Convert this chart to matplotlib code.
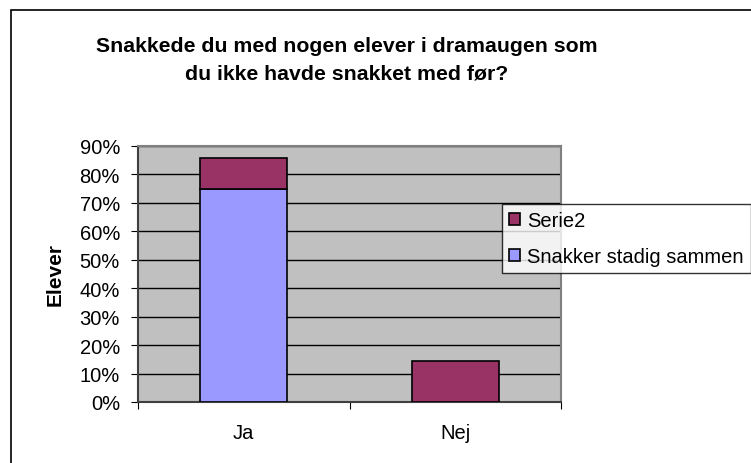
import matplotlib.pyplot as plt
from matplotlib.patches import Rectangle
from matplotlib.ticker import FixedLocator, PercentFormatter

plt.rcParams['font.family'] = ['Liberation Sans', 'DejaVu Sans']

categories = ['Ja', 'Nej']
snakker_stadig = [75.0, 0.0]
serie2 = [10.7, 14.3]

fig = plt.figure(figsize=(7.51, 4.64), dpi=100)

# outer chart border
fig.patches.append(Rectangle((11 / 751, -0.1), 1.1, 1.1 - 11 / 464,
                             transform=fig.transFigure, fill=False,
                             edgecolor='black', linewidth=1.2))

ax = fig.add_axes([138 / 751, 1 - 403 / 464, 423 / 751, 256 / 464])
ax.set_facecolor('#C0C0C0')

x = range(len(categories))
b1 = ax.bar(x, snakker_stadig, width=0.41, color='#9999FF', edgecolor='black',
            linewidth=1.2, label='Snakker stadig sammen', zorder=3)
b2 = ax.bar(x, serie2, width=0.41, bottom=snakker_stadig, color='#993366',
            edgecolor='black', linewidth=1.2, label='Serie2', zorder=3)

ax.set_xlim(-0.5, 1.5)
ax.set_ylim(0, 90)
ax.yaxis.set_major_locator(FixedLocator(range(0, 91, 10)))
ax.yaxis.set_major_formatter(PercentFormatter(decimals=0))
ax.grid(axis='y', color='black', linewidth=1, zorder=1)

ax.xaxis.set_major_locator(FixedLocator([-0.5, 0.5, 1.5]))
ax.xaxis.set_major_formatter(plt.NullFormatter())
ax.xaxis.set_minor_locator(FixedLocator(list(x)))
ax.set_xticklabels(categories, minor=True)
ax.tick_params(axis='x', which='minor', length=0, pad=15, labelsize=14.5)
ax.tick_params(axis='x', which='major', length=5, direction='out')
ax.tick_params(axis='y', length=5, direction='out', labelsize=14.5, pad=8)

for s in ['top', 'right']:
    ax.spines[s].set_color('#808080')
    ax.spines[s].set_linewidth(1.5)
for s in ['left', 'bottom']:
    ax.spines[s].set_color('#404040')
    ax.spines[s].set_linewidth(1.5)

ax.set_ylabel('Elever', fontsize=15, fontweight='bold', labelpad=11)

fig.text(347 / 751, 1 - 60 / 464, 'Snakkede du med nogen elever i dramaugen som\ndu ikke havde snakket med før?',
         ha='center', va='center', fontsize=15.3, fontweight='bold', linespacing=1.55)

leg = ax.legend(handles=[b2, b1], labels=['Serie2', 'Snakker stadig sammen'],
                loc='upper left', bbox_to_anchor=(502 / 751, 1 - 205 / 464),
                bbox_transform=fig.transFigure, fontsize=14.5, frameon=True,
                fancybox=False, edgecolor='black', borderpad=0.35,
                handlelength=0.55, handleheight=0.55, handletextpad=0.35,
                labelspacing=0.85, borderaxespad=0)
leg.get_frame().set_linewidth(1)

fig.savefig('out.png', dpi=100)
